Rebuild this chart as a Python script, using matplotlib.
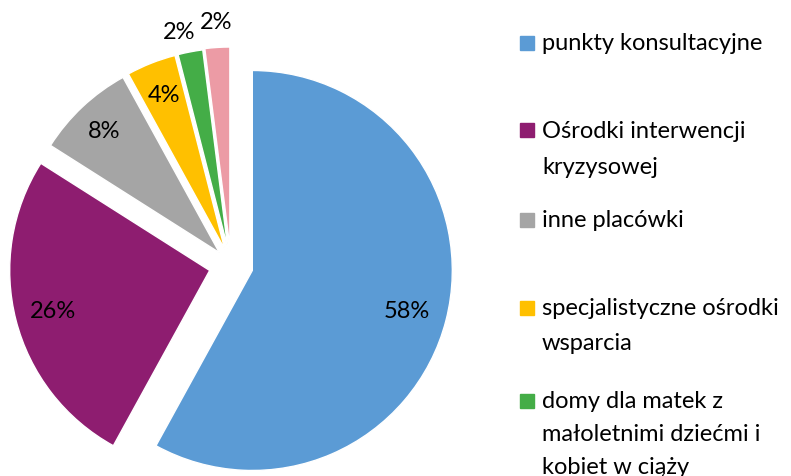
import numpy as np
import matplotlib.pyplot as plt
from matplotlib.patches import Rectangle

plt.rcParams['font.family'] = ['Lato', 'DejaVu Sans']

# data
categories = [
    "punkty konsultacyjne",
    "Ośrodki interwencji\nkryzysowej",
    "inne placówki",
    "specjalistyczne ośrodki\nwsparcia",
    "domy dla matek z\nmałoletnimi dziećmi i\nkobiet w ciąży",
    "",
]
shares = [58, 26, 8, 4, 2, 2]
colors = ["#5B9BD5", "#8E1D70", "#A5A5A5", "#FFC000", "#44AD47", "#EC9BA5"]
explode = [0.11, 0.11, 0.085, 0.085, 0.085, 0.09]
label_dist = [0.8, 0.81, 0.84, 0.83, 1.11, 1.13]
label_turn = [0, 0, 0, 0, 2.0, 0]  # small angular nudge (deg) so tiny labels don't collide

W, H = 791, 477
fig = plt.figure(figsize=(W / 100, H / 100), dpi=100)
ax = fig.add_axes([0, 0, 1, 1])

wedges, _ = ax.pie(shares, colors=colors, explode=explode, startangle=90,
                   counterclock=False, radius=1,
                   wedgeprops=dict(edgecolor="white", linewidth=1))

# pie centre in pixels and radius (limits set after pie, which resets them)
cx, cy, r = 231, 266, 200
ax.set_xlim(-cx / r, (W - cx) / r)
ax.set_ylim(-(H - cy) / r, cy / r)
ax.axis("off")

for w, val, d, t in zip(wedges, shares, label_dist, label_turn):
    ang = np.deg2rad((w.theta1 + w.theta2) / 2 + t)
    x = w.center[0] + d * np.cos(ang)
    y = w.center[1] + d * np.sin(ang)
    ax.text(x, y, f"{val}%", ha="center", va="center", fontsize=17, color="black")

# legend drawn by hand (Excel-like spacing)
rows = [44, 131, 221, 309, 402]
line_h = [36, 36, 36, 35, 33]
for lab, col, y, lh in zip(categories, colors, rows, line_h):
    fig.patches.append(Rectangle((520 / W, 1 - (y + 7) / H), 14 / W, 14 / H,
                                 transform=fig.transFigure, color=col))
    for i, line in enumerate(lab.split("\n")):
        fig.text(542 / W, 1 - (y + i * lh) / H, line, ha="left", va="center",
                 fontsize=17, color="black")

fig.savefig("out.png", dpi=100)
